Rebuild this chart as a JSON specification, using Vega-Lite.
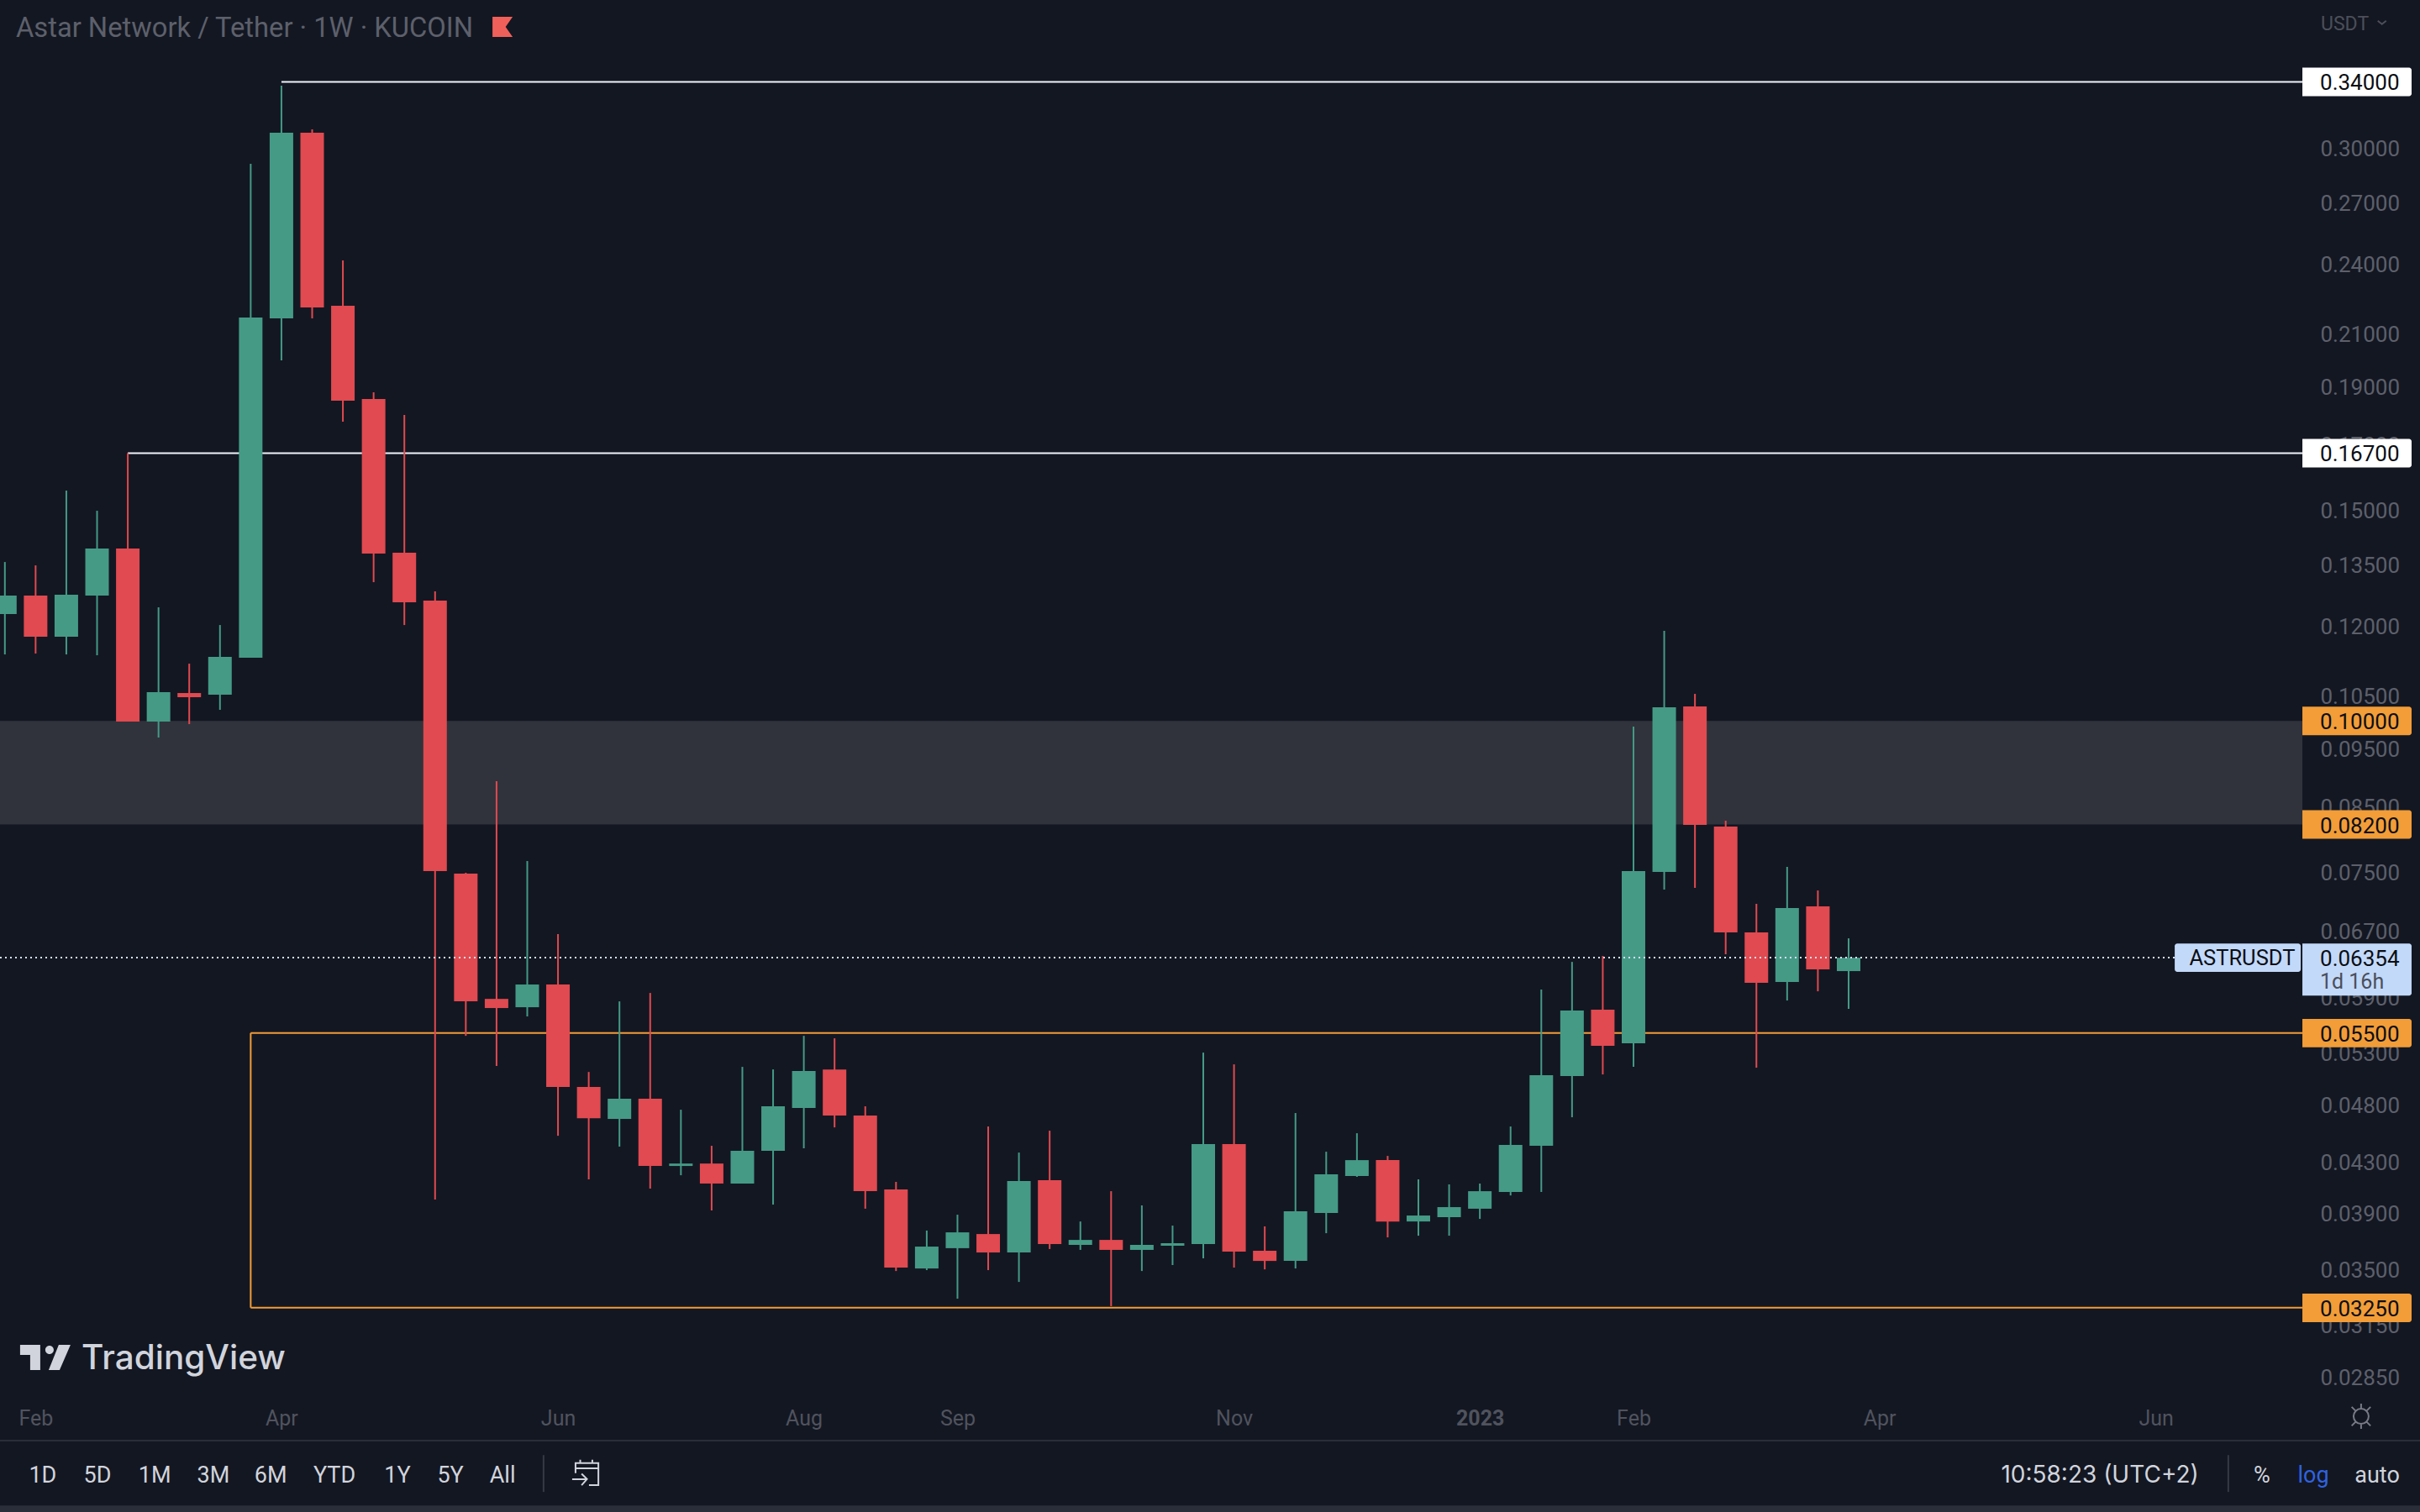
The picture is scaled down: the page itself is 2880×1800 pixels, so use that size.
{
  "$schema": "https://vega.github.io/schema/vega-lite/v6.json",
  "description": "Astar Network / Tether weekly candles on KuCoin, log price scale",
  "width": 2880,
  "height": 1800,
  "padding": 0,
  "autosize": "none",
  "background": "#131722",
  "title": {
    "text": "Astar Network / Tether · 1W · KUCOIN",
    "anchor": "start", "frame": "group", "offset": -51, "dx": 19,
    "font": "Roboto", "fontSize": 32.7, "fontWeight": 400, "color": "#5d606b"
  },
  "config": {
    "view": {"stroke": null},
    "legend": {"disable": true},
    "scale": {"continuousPadding": 0},
    "text": {"font": "Roboto"}
  },
  "datasets": {
    "candles": [
      {"date":"2022-01-24","open":0.12269,"high":0.13556,"low":0.11357,"close":0.12712,"dir":"up"},
      {"date":"2022-01-31","open":0.12712,"high":0.13469,"low":0.11376,"close":0.11748,"dir":"down"},
      {"date":"2022-02-07","open":0.11748,"high":0.15543,"low":0.11357,"close":0.12732,"dir":"up"},
      {"date":"2022-02-14","open":0.12712,"high":0.14954,"low":0.11339,"close":0.13910,"dir":"up"},
      {"date":"2022-02-21","open":0.13910,"high":0.16700,"low":0.09986,"close":0.09986,"dir":"down"},
      {"date":"2022-02-28","open":0.09986,"high":0.12429,"low":0.09686,"close":0.10565,"dir":"up"},
      {"date":"2022-03-07","open":0.10548,"high":0.11158,"low":0.09938,"close":0.10464,"dir":"down"},
      {"date":"2022-03-14","open":0.10514,"high":0.12015,"low":0.10214,"close":0.11303,"dir":"up"},
      {"date":"2022-03-21","open":0.11284,"high":0.29062,"low":0.11284,"close":0.21650,"dir":"up"},
      {"date":"2022-03-28","open":0.21615,"high":0.33752,"low":0.19945,"close":0.30845,"dir":"up"},
      {"date":"2022-04-04","open":0.30845,"high":0.31043,"low":0.21615,"close":0.22072,"dir":"down"},
      {"date":"2022-04-11","open":0.22143,"high":0.24153,"low":0.17735,"close":0.18463,"dir":"down"},
      {"date":"2022-04-18","open":0.18522,"high":0.18762,"low":0.13043,"close":0.13776,"dir":"down"},
      {"date":"2022-04-25","open":0.13798,"high":0.17965,"low":0.12015,"close":0.12549,"dir":"down"},
      {"date":"2022-05-02","open":0.12589,"high":0.12814,"low":0.03998,"close":0.07500,"dir":"down"},
      {"date":"2022-05-09","open":0.07464,"high":0.07476,"low":0.05471,"close":0.05844,"dir":"down"},
      {"date":"2022-05-16","open":0.05872,"high":0.08908,"low":0.05164,"close":0.05770,"dir":"down"},
      {"date":"2022-05-23","open":0.05779,"high":0.07646,"low":0.05678,"close":0.06036,"dir":"up"},
      {"date":"2022-05-30","open":0.06036,"high":0.06648,"low":0.04518,"close":0.04960,"dir":"down"},
      {"date":"2022-06-06","open":0.04960,"high":0.05105,"low":0.04156,"close":0.04673,"dir":"down"},
      {"date":"2022-06-13","open":0.04666,"high":0.05844,"low":0.04425,"close":0.04850,"dir":"up"},
      {"date":"2022-06-20","open":0.04850,"high":0.05939,"low":0.04083,"close":0.04264,"dir":"down"},
      {"date":"2022-06-27","open":0.04264,"high":0.04749,"low":0.04189,"close":0.04284,"dir":"up"},
      {"date":"2022-07-04","open":0.04284,"high":0.04432,"low":0.03916,"close":0.04123,"dir":"down"},
      {"date":"2022-07-11","open":0.04123,"high":0.05155,"low":0.04123,"close":0.04389,"dir":"up"},
      {"date":"2022-07-18","open":0.04389,"high":0.05130,"low":0.03960,"close":0.04780,"dir":"up"},
      {"date":"2022-07-25","open":0.04765,"high":0.05471,"low":0.04411,"close":0.05114,"dir":"up"},
      {"date":"2022-08-01","open":0.05130,"high":0.05445,"low":0.04591,"close":0.04696,"dir":"down"},
      {"date":"2022-08-08","open":0.04696,"high":0.04780,"low":0.03929,"close":0.04063,"dir":"down"},
      {"date":"2022-08-15","open":0.04076,"high":0.04136,"low":0.03487,"close":0.03510,"dir":"down"},
      {"date":"2022-08-22","open":0.03504,"high":0.03768,"low":0.03493,"close":0.03654,"dir":"up"},
      {"date":"2022-08-29","open":0.03643,"high":0.03884,"low":0.03307,"close":0.03755,"dir":"up"},
      {"date":"2022-09-05","open":0.03743,"high":0.04599,"low":0.03493,"close":0.03613,"dir":"down"},
      {"date":"2022-09-12","open":0.03613,"high":0.04375,"low":0.03415,"close":0.04143,"dir":"up"},
      {"date":"2022-09-19","open":0.04150,"high":0.04562,"low":0.03637,"close":0.03672,"dir":"down"},
      {"date":"2022-09-26","open":0.03666,"high":0.03834,"low":0.03631,"close":0.03701,"dir":"up"},
      {"date":"2022-10-03","open":0.03701,"high":0.04063,"low":0.03260,"close":0.03631,"dir":"down"},
      {"date":"2022-10-10","open":0.03631,"high":0.03954,"low":0.03487,"close":0.03666,"dir":"up"},
      {"date":"2022-10-17","open":0.03660,"high":0.03804,"low":0.03527,"close":0.03678,"dir":"up"},
      {"date":"2022-10-24","open":0.03672,"high":0.05298,"low":0.03573,"close":0.04447,"dir":"up"},
      {"date":"2022-10-31","open":0.04447,"high":0.05180,"low":0.03510,"close":0.03619,"dir":"down"},
      {"date":"2022-11-07","open":0.03625,"high":0.03798,"low":0.03498,"close":0.03555,"dir":"down"},
      {"date":"2022-11-14","open":0.03555,"high":0.04719,"low":0.03504,"close":0.03909,"dir":"up"},
      {"date":"2022-11-21","open":0.03897,"high":0.04382,"low":0.03749,"close":0.04196,"dir":"up"},
      {"date":"2022-11-28","open":0.04183,"high":0.04540,"low":0.04176,"close":0.04312,"dir":"up"},
      {"date":"2022-12-05","open":0.04312,"high":0.04347,"low":0.03719,"close":0.03834,"dir":"down"},
      {"date":"2022-12-12","open":0.03834,"high":0.04156,"low":0.03731,"close":0.03878,"dir":"up"},
      {"date":"2022-12-19","open":0.03866,"high":0.04116,"low":0.03731,"close":0.03941,"dir":"up"},
      {"date":"2022-12-26","open":0.03929,"high":0.04123,"low":0.03853,"close":0.04063,"dir":"up"},
      {"date":"2023-01-02","open":0.04057,"high":0.04599,"low":0.04030,"close":0.04440,"dir":"up"},
      {"date":"2023-01-09","open":0.04432,"high":0.05978,"low":0.04057,"close":0.05073,"dir":"up"},
      {"date":"2023-01-16","open":0.05065,"high":0.06303,"low":0.04681,"close":0.05742,"dir":"up"},
      {"date":"2023-01-23","open":0.05752,"high":0.06375,"low":0.05081,"close":0.05367,"dir":"down"},
      {"date":"2023-01-30","open":0.05393,"high":0.09890,"low":0.05155,"close":0.07500,"dir":"up"},
      {"date":"2023-02-06","open":0.07488,"high":0.11881,"low":0.07239,"close":0.10263,"dir":"up"},
      {"date":"2023-02-13","open":0.10279,"high":0.10531,"low":0.07263,"close":0.08195,"dir":"down"},
      {"date":"2023-02-20","open":0.08167,"high":0.08260,"low":0.06396,"close":0.06669,"dir":"down"},
      {"date":"2023-02-27","open":0.06669,"high":0.07044,"low":0.05147,"close":0.06055,"dir":"down"},
      {"date":"2023-03-06","open":0.06065,"high":0.07561,"low":0.05854,"close":0.06988,"dir":"up"},
      {"date":"2023-03-13","open":0.07010,"high":0.07227,"low":0.05958,"close":0.06213,"dir":"down"},
      {"date":"2023-03-20","open":0.06193,"high":0.06594,"low":0.05761,"close":0.06354,"dir":"up"}
    ],
    "levels": [
      {"price":0.34,"top":0.34943,"bottom":0.33083,"date":"2023-07-01T09:00:00Z","end":"2023-07-26T06:00:00Z","kind":"key","label":"0.34000"},
      {"price":0.167,"top":0.17163,"bottom":0.16249,"date":"2023-07-01T09:00:00Z","end":"2023-07-26T06:00:00Z","kind":"key","label":"0.16700"},
      {"price":0.1,"top":0.10277,"bottom":0.0973,"date":"2023-07-01T09:00:00Z","end":"2023-07-26T06:00:00Z","kind":"zone","label":"0.10000"},
      {"price":0.082,"top":0.08427,"bottom":0.07979,"date":"2023-07-01T09:00:00Z","end":"2023-07-26T06:00:00Z","kind":"zone","label":"0.08200"},
      {"price":0.055,"top":0.05652,"bottom":0.05352,"date":"2023-07-01T09:00:00Z","end":"2023-07-26T06:00:00Z","kind":"zone","label":"0.05500"},
      {"price":0.0325,"top":0.0334,"bottom":0.03162,"date":"2023-07-01T09:00:00Z","end":"2023-07-26T06:00:00Z","kind":"zone","label":"0.03250"},
      {"price":0.06354,"top":0.0653,"bottom":0.0591,"date":"2023-07-01T09:00:00Z","end":"2023-07-26T06:00:00Z","kind":"last","label":"0.06354"}
    ],
    "toolbar": [
      {"label":"1D","date":"2022-02-01T15:00:00Z","price":0.02362},
      {"label":"5D","date":"2022-02-14T02:00:00Z","price":0.02362},
      {"label":"1M","date":"2022-02-27T03:00:00Z","price":0.02362},
      {"label":"3M","date":"2022-03-12T12:00:00Z","price":0.02362},
      {"label":"6M","date":"2022-03-25T13:00:00Z","price":0.02362},
      {"label":"YTD","date":"2022-04-09T02:00:00Z","price":0.02362},
      {"label":"1Y","date":"2022-04-23T10:00:00Z","price":0.02362},
      {"label":"5Y","date":"2022-05-05T12:00:00Z","price":0.02362},
      {"label":"All","date":"2022-05-17T09:00:00Z","price":0.02362},
      {"label":"%","date":"2023-06-22T04:00:00Z","price":0.02362},
      {"label":"auto","date":"2023-07-18T10:00:00Z","price":0.02362}
    ]
  },
  "encoding": {
    "x": {
      "field": "date", "type": "temporal",
      "scale": {"type": "utc", "domain": ["2022-01-22T21:20:00Z", "2023-07-28T04:00:00Z"], "padding": 0, "nice": false},
      "axis": {
        "orient": "bottom", "offset": -112, "title": null, "grid": false, "domain": false, "ticks": false,
        "labelPadding": 0, "labelBaseline": "middle", "labelAlign": "center", "labelFlush": false, "labelOverlap": false,
        "labelFont": "Roboto", "labelFontSize": 25, "labelColor": "#50535e",
        "labelFontWeight": {"condition": {"test": "utcmonth(datum.value) == 11", "value": 700}, "value": 400},
        "values": ["2022-01-31","2022-03-28","2022-05-30","2022-07-25","2022-08-29","2022-10-31","2022-12-26","2023-01-30","2023-03-27","2023-05-29"],
        "labelExpr": "utcmonth(datum.value) == 11 ? '2023' : utcFormat(time(datum.value) + 604800000, '%b')"
      }
    },
    "y": {
      "field": "price", "type": "quantitative",
      "scale": {"type": "log", "domain": [0.02198, 0.39771], "padding": 0, "nice": false},
      "axis": {
        "orient": "right", "offset": -119, "title": null, "grid": false, "domain": false, "ticks": false,
        "labelPadding": 0, "labelAlign": "left", "labelFlush": false, "labelOverlap": false, "format": ".5f",
        "labelOffset": 2, "labelFont": "Roboto", "labelFontSize": 26, "labelColor": "#5d606b",
        "values": [0.3,0.27,0.24,0.21,0.19,0.17,0.15,0.135,0.12,0.105,0.095,0.085,0.075,0.067,0.059,0.053,0.048,0.043,0.039,0.035,0.0315,0.0285]
      }
    }
  },
  "layer": [
    {
      "data": {"values": [{"price":0.1,"bottom":0.082,"date":"2022-01-22T21:20:00Z","end":"2023-07-01T09:00:00Z"}]},
      "mark": {"type": "rect", "color": "#30333c"},
      "encoding": {"x2": {"field": "end"}, "y2": {"field": "bottom"}}
    },
    {
      "data": {"values": [
        {"price":0.055,"date":"2022-03-21","end":"2023-07-01T09:00:00Z"},
        {"price":0.0325,"date":"2022-03-21","end":"2023-07-01T09:00:00Z"}
      ]},
      "mark": {"type": "rule", "color": "#f29d38", "strokeWidth": 2},
      "encoding": {"x2": {"field": "end"}}
    },
    {
      "data": {"values": [{"price":0.055,"bottom":0.0325,"date":"2022-03-21"}]},
      "mark": {"type": "rule", "color": "#f29d38", "strokeWidth": 2},
      "encoding": {"y2": {"field": "bottom"}}
    },
    {
      "data": {"values": [
        {"price":0.34,"date":"2022-03-28","end":"2023-07-01T09:00:00Z"},
        {"price":0.167,"date":"2022-02-21","end":"2023-07-01T09:00:00Z"}
      ]},
      "mark": {"type": "rule", "color": "#f0f3fa", "strokeWidth": 2},
      "encoding": {"x2": {"field": "end"}}
    },
    {
      "data": {"name": "candles"},
      "mark": {"type": "rule", "strokeWidth": 2},
      "encoding": {
        "y": {"field": "low"},
        "y2": {"field": "high"},
        "color": {"field": "dir", "type": "nominal",
          "scale": {"domain": ["up","down","key","zone","last"], "range": ["#459a86","#e04a50","#ffffff","#f29d38","#c3d9f9"]}}
      }
    },
    {
      "data": {"name": "candles"},
      "mark": {"type": "bar", "size": 28},
      "encoding": {
        "y": {"field": "open"},
        "y2": {"field": "close"},
        "color": {"field": "dir", "type": "nominal"}
      }
    },
    {
      "data": {"values": [{"price":0.06354,"date":"2022-01-22T21:20:00Z","end":"2023-06-02T07:00:00Z"}]},
      "mark": {"type": "rule", "color": "#d5e0f2", "strokeWidth": 2, "strokeDash": [2, 4]},
      "encoding": {"x2": {"field": "end"}}
    },
    {
      "data": {"name": "levels"},
      "mark": {"type": "rect", "cornerRadiusTopRight": 3, "cornerRadiusBottomRight": 3},
      "encoding": {
        "y": {"field": "top"},
        "y2": {"field": "bottom"},
        "x2": {"field": "end"},
        "color": {"field": "kind", "type": "nominal"}
      }
    },
    {
      "data": {"values": [{"price":0.0653,"bottom":0.06183,"date":"2023-06-02T07:00:00Z","end":"2023-07-01T00:00:00Z"}]},
      "mark": {"type": "rect", "color": "#c3d9f9", "cornerRadius": 3},
      "encoding": {"x2": {"field": "end"}, "y2": {"field": "bottom"}}
    },
    {
      "data": {"name": "levels"},
      "mark": {"type": "text", "align": "left", "dx": 21, "dy": 2, "fontSize": 26, "color": "#0b0e14"},
      "encoding": {"text": {"field": "label"}}
    },
    {
      "data": {"values": [{"label":"ASTRUSDT","price":0.06354,"date":"2023-06-17T16:00:00Z"}]},
      "mark": {"type": "text", "dy": 1, "fontSize": 25.5, "color": "#0b0e14"},
      "encoding": {"text": {"field": "label"}}
    },
    {
      "data": {"values": [{"label":"1d 16h","price":0.06074,"date":"2023-07-05T09:00:00Z"}]},
      "mark": {"type": "text", "align": "left", "dy": 1, "fontSize": 25, "color": "#4a4f5c"},
      "encoding": {"text": {"field": "label"}}
    },
    {
      "data": {"values": [{"label":"USDT","price":0.381,"date":"2023-07-05T14:00:00Z"}]},
      "mark": {"type": "text", "align": "left", "dy": 2, "fontSize": 23, "color": "#4c4f59"},
      "encoding": {"text": {"field": "label"}}
    },
    {
      "data": {"values": [{"price":0.381,"date":"2023-07-19T12:00:00Z"}]},
      "mark": {"type": "point", "shape": "M-1,-.4L0,.4L1,-.4", "size": 100, "filled": false, "stroke": "#4c4f59", "strokeWidth": 2, "opacity": 1}
    },
    {
      "data": {"values": [{"price":0.3778,"date":"2022-05-17T09:00:00Z"}]},
      "mark": {"type": "point", "shape": "M-1,-1L1,-1L.3,0L1,1L-1,1Z", "size": 576, "filled": true, "fill": "#f0605a", "stroke": null, "opacity": 1}
    },
    {
      "data": {"values": [{"price":0.02955,"date":"2022-02-02T05:00:00Z"}]},
      "mark": {"type": "point", "shape": "M-1,-.5L-.2,-.5L-.2,.5L-.6,.5L-.6,-.1L-1,-.1ZM0,-.3a.167,.167 0 1,0 .334,0a.167,.167 0 1,0 -.334,0ZM.533,-.5L1,-.5L.567,.5L.133,.5Z", "size": 3600, "filled": true, "fill": "#d1d4dc", "stroke": null, "opacity": 1}
    },
    {
      "data": {"values": [{"label":"TradingView","price":0.0296,"date":"2022-02-10T11:00:00Z"}]},
      "mark": {"type": "text", "align": "left", "dy": 3, "font": "Inter", "fontSize": 40.5, "fontWeight": 500, "color": "#d1d4dc"},
      "encoding": {"text": {"field": "label"}}
    },
    {
      "data": {"values": [{"price":0.0252,"date":"2022-01-22T21:20:00Z","end":"2023-07-28T04:00:00Z"}]},
      "mark": {"type": "rule", "color": "#2a2e39", "strokeWidth": 2},
      "encoding": {"x2": {"field": "end"}}
    },
    {
      "data": {"values": [{"price":0.02226,"bottom":0.02198,"date":"2022-01-22T21:20:00Z","end":"2023-07-28T04:00:00Z"}]},
      "mark": {"type": "rect", "color": "#2a2e39"},
      "encoding": {"x2": {"field": "end"}, "y2": {"field": "bottom"}}
    },
    {
      "data": {"values": [
        {"date":"2022-05-26T17:00:00Z","price":0.02451,"bottom":0.02284},
        {"date":"2023-06-14T12:00:00Z","price":0.02451,"bottom":0.02284}
      ]},
      "mark": {"type": "rule", "color": "#363a45", "strokeWidth": 2},
      "encoding": {"y2": {"field": "bottom"}}
    },
    {
      "data": {"name": "toolbar"},
      "mark": {"type": "text", "dy": 2, "fontSize": 27, "color": "#d1d4dc"},
      "encoding": {"text": {"field": "label"}}
    },
    {
      "data": {"values": [{"label":"10:58:23 (UTC+2)","date":"2023-05-16T06:00:00Z","price":0.02362}]},
      "mark": {"type": "text", "dy": 2, "font": "Inter", "fontSize": 28, "color": "#d1d4dc"},
      "encoding": {"text": {"field": "label"}}
    },
    {
      "data": {"values": [{"label":"log","date":"2023-07-03T21:00:00Z","price":0.02362}]},
      "mark": {"type": "text", "dy": 2, "fontSize": 27, "color": "#2f63e0"},
      "encoding": {"text": {"field": "label"}}
    },
    {
      "data": {"values": [{"date":"2022-06-05T07:00:00Z","price":0.02368}]},
      "mark": {"type": "point", "shape": "M-.75,0V-.75H.95V.9H.25M-.75,-.35H.95M-.4,-1V-.7M.5,-1V-.7M-1,.45H.1M-.3,.05L.1,.45L-.3,.9", "size": 1024, "filled": false, "stroke": "#d1d4dc", "strokeWidth": 2, "opacity": 1}
    },
    {
      "data": {"values": [{"date":"2023-07-14T18:00:00Z","price":0.0264}]},
      "mark": {"type": "point", "shape": "M.6,0a.6,.6 0 1,1 -1.2,0a.6,.6 0 1,1 1.2,0M0,-1V-.6M0,1V.6M-.75,-.75L-.45,-.45M.75,-.75L.45,-.45M-.75,.75L-.45,.45M.75,.75L.45,.45", "size": 900, "filled": false, "stroke": "#787b86", "strokeWidth": 2, "opacity": 1}
    }
  ]
}
